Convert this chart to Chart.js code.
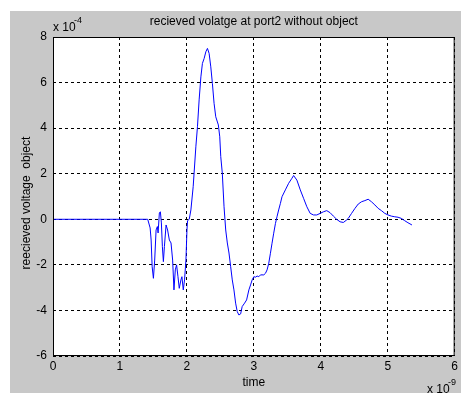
<!DOCTYPE html>
<html>
<head>
<meta charset="utf-8">
<script src="https://cdn.jsdelivr.net/npm/chart.js@4"></script>
<style>
    html, body { margin: 0; padding: 0; background: #ffffff; }
    #frame {
        position: absolute;
        left: 10px;
        top: 11px;
        width: 451px;
        height: 382px;
        background: #c8c8c8;
    }
</style>
</head>
<body>
<div id="frame"><canvas id="port2" width="451" height="382"></canvas></div>
<script>
// time in units of 1e-9 s, voltage in units of 1e-4 V
let timeValues = [
    0, 1.415, 1.451, 1.466, 1.481, 1.500, 1.519, 1.540, 1.559, 1.570,
    1.589, 1.604, 1.619, 1.634, 1.649, 1.664, 1.689, 1.712, 1.738, 1.763,
    1.787, 1.807, 1.827, 1.846, 1.867, 1.886, 1.911, 1.926, 1.946, 1.965,
    1.986, 2.001, 2.010, 2.035, 2.060, 2.094, 2.134, 2.158, 2.183, 2.209,
    2.232, 2.258, 2.283, 2.307, 2.332, 2.357, 2.381, 2.406, 2.431, 2.470,
    2.491, 2.506, 2.529, 2.555, 2.580, 2.604, 2.629, 2.654, 2.678, 2.703,
    2.728, 2.752, 2.777, 2.803, 2.826, 2.862, 2.892, 2.926, 2.951, 2.975,
    3.000, 3.025, 3.049, 3.074, 3.100, 3.149, 3.174, 3.198, 3.223, 3.248,
    3.272, 3.297, 3.323, 3.346, 3.371, 3.397, 3.421, 3.471, 3.520, 3.569,
    3.594, 3.643, 3.694, 3.743, 3.792, 3.842, 3.891, 3.940, 3.991, 4.040,
    4.089, 4.139, 4.188, 4.237, 4.288, 4.337, 4.386, 4.411, 4.460, 4.511,
    4.560, 4.609, 4.659, 4.708, 4.757, 4.808, 4.857, 4.906, 4.956, 5.005,
    5.054, 5.105, 5.154, 5.203, 5.253, 5.302, 5.362
];
let voltageValues = [
    0, 0, -0.38, -0.91, -2.08, -2.59, -1.79, -0.47, -0.32, -0.60,
    0.28, 0.33, -0.16, -1.20, -1.86, -1.20, -0.25, -0.47, -0.91, -1.04,
    -1.79, -3.10, -2.22, -2.00, -2.52, -3.03, -2.66, -2.52, -3.10, -2.66,
    -1.79, -0.47, -0.06, 0, 0.41, 1.43, 3.18, 4.06, 5.24, 6.25,
    6.84, 7.06, 7.35, 7.50, 7.28, 6.69, 5.96, 5.09, 4.50, 4.14,
    3.62, 2.75, 2.02, 0.55, -0.47, -1.04, -1.48, -2.08, -2.66, -3.10,
    -3.68, -4.05, -4.20, -4.15, -3.83, -3.68, -3.54, -3.10, -2.88, -2.66,
    -2.52, -2.54, -2.49, -2.52, -2.44, -2.44, -2.37, -2.22, -1.93, -1.49,
    -1.05, -0.61, -0.18, 0.11, 0.41, 0.70, 0.99, 1.29, 1.58, 1.80,
    1.92, 1.72, 1.29, 0.92, 0.55, 0.26, 0.19, 0.19, 0.26, 0.33,
    0.38, 0.29, 0.14, 0, -0.11, -0.14, -0.03, 0.04, 0.26, 0.48,
    0.67, 0.77, 0.82, 0.88, 0.77, 0.63, 0.48, 0.38, 0.26, 0.19,
    0.14, 0.11, 0.09, 0.04, -0.06, -0.15, -0.25
];
let xTicks = [0, 1, 2, 3, 4, 5, 6];
let yTicks = [-6, -4, -2, 0, 2, 4, 6, 8];

let chartTitle = 'recieved volatge at port2 without object';
let xLabel = 'time';
let yLabel = 'reecieved voltage  object';

let font = '"Liberation Sans", Arial, sans-serif';

let matlabAxes = {
    id: 'matlabAxes',
    beforeDraw(chart) {
        let a = chart.chartArea;
        let ctx = chart.ctx;
        ctx.save();
        ctx.fillStyle = '#ffffff';
        ctx.fillRect(a.left, a.top, a.right - a.left, a.bottom - a.top);
        ctx.restore();
    },
    afterDraw(chart) {
        let a = chart.chartArea;
        let ctx = chart.ctx;
        ctx.save();
        ctx.strokeStyle = '#000000';
        ctx.lineWidth = 1;
        ctx.strokeRect(a.left + 0.5, a.top + 0.5, a.right - a.left - 1, a.bottom - a.top - 1);

        ctx.fillStyle = '#000000';
        ctx.font = '12px ' + font;
        ctx.textAlign = 'center';
        ctx.textBaseline = 'middle';
        ctx.fillText(chartTitle, (a.left + a.right) / 2, 11);
        ctx.fillText(xLabel, (a.left + a.right) / 2, 372);

        ctx.save();
        ctx.translate(17, 192);
        ctx.rotate(-Math.PI / 2);
        ctx.fillText(yLabel, 0, 0);
        ctx.restore();

        // exponent markers for both axes
        ctx.textAlign = 'left';
        ctx.textBaseline = 'alphabetic';
        ctx.font = '12px ' + font;
        ctx.fillText('x 10', a.left, 20);
        ctx.font = '9px ' + font;
        ctx.fillText('-4', a.left + 21, 12);
        ctx.font = '12px ' + font;
        ctx.fillText('x 10', 417, 382);
        ctx.font = '9px ' + font;
        ctx.fillText('-9', 438, 374);
        ctx.restore();
    }
};

let gridStyle = {
    color: '#000000',
    lineWidth: 1,
    drawTicks: false
};

let ctx = document.getElementById('port2').getContext('2d');

let myChart = new Chart(ctx, {
    type: 'line',
    data: {
        datasets: [{
            data: timeValues.map((t, i) => ({ x: t, y: voltageValues[i] })),
            borderColor: 'rgb(0, 0, 255)',
            borderWidth: 1,
            pointRadius: 0,
            tension: 0,
            fill: false
        }]
    },
    options: {
        responsive: false,
        animation: false,
        events: [],
        layout: {
            padding: { left: 0, top: 26, right: 4, bottom: 0 }
        },
        plugins: {
            legend: { display: false },
            title: { display: false },
            tooltip: { enabled: false }
        },
        scales: {
            x: {
                type: 'linear',
                min: 0,
                max: 6,
                afterFit: scale => { scale.height = 37; },
                afterBuildTicks: scale => { scale.ticks = xTicks.map(v => ({ value: v })); },
                border: { display: false, dash: [3, 3] },
                grid: gridStyle,
                ticks: {
                    color: '#000000',
                    padding: 3,
                    maxRotation: 0,
                    font: { family: font, size: 12 }
                }
            },
            y: {
                type: 'linear',
                min: -6,
                max: 8,
                afterFit: scale => { scale.width = 43; },
                afterBuildTicks: scale => { scale.ticks = yTicks.map(v => ({ value: v })); },
                border: { display: false, dash: [3, 3] },
                grid: gridStyle,
                ticks: {
                    color: '#000000',
                    padding: 6,
                    font: { family: font, size: 12 }
                }
            }
        }
    },
    plugins: [matlabAxes]
});
</script>
</body>
</html>
